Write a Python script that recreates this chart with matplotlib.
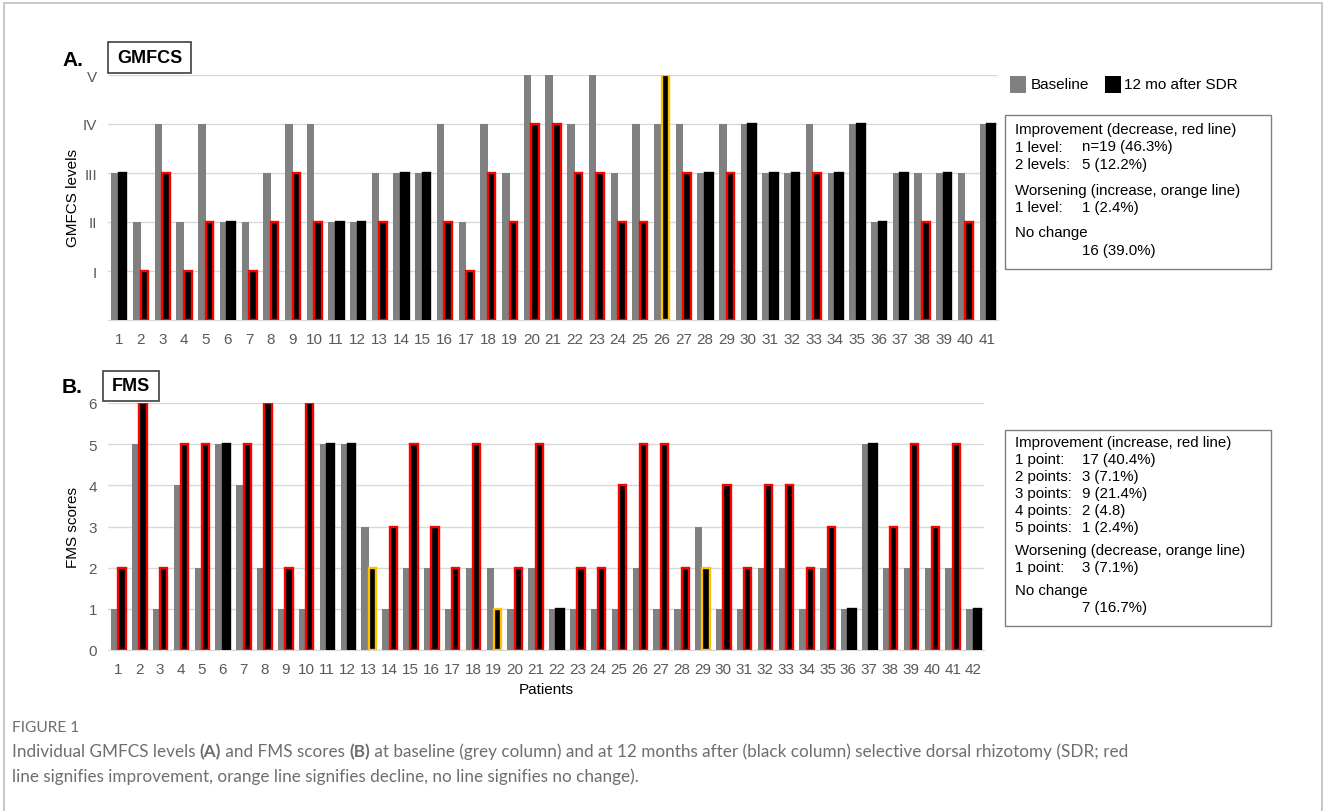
import numpy as np
import matplotlib
matplotlib.use("Agg")
import matplotlib.pyplot as plt
from matplotlib.patches import Rectangle

W, H = 1328, 812

# GMFCS levels (1 = I ... 5 = V)
gmfcs_patients = [str(i) for i in range(1, 42)]
gmfcs_baseline = [3, 2, 4, 2, 4, 2, 2, 3, 4, 4, 2, 2, 3, 3, 3, 4, 2, 4, 3, 5, 5,
                  4, 5, 3, 4, 4, 4, 3, 4, 4, 3, 3, 4, 3, 4, 2, 3, 3, 3, 3, 4]
gmfcs_after = [3, 1, 3, 1, 2, 2, 1, 2, 3, 2, 2, 2, 2, 3, 3, 2, 1, 3, 2, 4, 4,
               3, 3, 2, 2, 5, 3, 3, 3, 4, 3, 3, 3, 3, 4, 2, 3, 2, 3, 2, 4]
gmfcs_levels = ["I", "II", "III", "IV", "V"]

# FMS scores
fms_patients = [str(i) for i in range(1, 43)]
fms_baseline = [1, 5, 1, 4, 2, 5, 4, 2, 1, 1, 5, 5, 3, 1, 2, 2, 1, 2, 2, 1, 2,
                1, 1, 1, 1, 2, 1, 1, 3, 1, 1, 2, 2, 1, 2, 1, 5, 2, 2, 2, 2, 1]
fms_after = [2, 6, 2, 5, 5, 5, 5, 6, 2, 6, 5, 5, 2, 3, 5, 3, 2, 5, 1, 2, 5,
             1, 2, 2, 4, 5, 5, 2, 2, 4, 2, 4, 4, 2, 3, 1, 5, 3, 5, 3, 5, 1]

gmfcs_box = [("Improvement (decrease, red line)", ""),
             ("1 level:", "n=19 (46.3%)"),
             ("2 levels:", "5 (12.2%)"),
             None,
             ("Worsening (increase, orange line)", ""),
             ("1 level:", "1 (2.4%)"),
             None,
             ("No change", ""),
             ("", "16 (39.0%)")]
fms_box = [("Improvement (increase, red line)", ""),
           ("1 point:", "17 (40.4%)"),
           ("2 points:", "3 (7.1%)"),
           ("3 points:", "9 (21.4%)"),
           ("4 points:", "2 (4.8)"),
           ("5 points:", "1 (2.4%)"),
           None,
           ("Worsening (decrease, orange line)", ""),
           ("1 point:", "3 (7.1%)"),
           None,
           ("No change", ""),
           ("", "7 (16.7%)")]

GREY = "#808080"
RED = "#ff0000"
ORANGE = "#ffc000"
GRID = "#d9d9d9"
TICK = "#595959"

plt.rcParams["font.family"] = ["Liberation Sans", "DejaVu Sans"]

fig = plt.figure(figsize=(W / 100, H / 100), dpi=100)


def px_axes(l, t, r, b):
    return fig.add_axes([l / W, 1 - b / H, (r - l) / W, (b - t) / H])


def draw_panel(ax, labels, base, after, lower_is_better):
    x = np.arange(len(base))
    w = 0.35
    edges = []
    for b, a in zip(base, after):
        if a == b:
            edges.append("black")
        elif (a < b) == lower_is_better:
            edges.append(RED)
        else:
            edges.append(ORANGE)
    ax.bar(x - w / 2, base, w, color=GREY, zorder=2)
    ax.bar(x + w / 2, after, w, color="black", edgecolor=edges, linewidth=1.7, zorder=3)
    ax.set_xlim(-0.5, len(base) - 0.5)
    ax.set_xticks(x, labels)
    for s in ["top", "right", "left"]:
        ax.spines[s].set_visible(False)
    ax.spines["bottom"].set_color(GRID)
    ax.grid(axis="y", color=GRID, linewidth=1, zorder=0)
    ax.tick_params(length=0, colors=TICK, labelsize=11)
    ax.tick_params(axis="x", pad=9)
    ax.tick_params(axis="y", pad=8)


# Panel A
axA = px_axes(108, 76, 998, 321)
draw_panel(axA, gmfcs_patients, gmfcs_baseline, gmfcs_after, True)
axA.set_ylim(0, 5)
axA.set_yticks(range(1, 6), gmfcs_levels)
fig.text(73 / W, 1 - 198 / H, "GMFCS levels", rotation=90, ha="center", va="center", fontsize=11)

# Panel B
axB = px_axes(108, 404, 984, 651)
draw_panel(axB, fms_patients, fms_baseline, fms_after, False)
axB.set_ylim(0, 6)
axB.set_yticks(range(0, 7))
fig.text(73 / W, 1 - 528 / H, "FMS scores", rotation=90, ha="center", va="center", fontsize=11)
fig.text(546 / W, 1 - 690 / H, "Patients", ha="center", va="center", fontsize=11)


def tag(letter, lx, ly, name, l, t, r, b):
    fig.text(lx / W, 1 - ly / H, letter, fontsize=15, fontweight="bold", ha="left", va="center")
    fig.add_artist(Rectangle((l / W, 1 - b / H), (r - l) / W, (b - t) / H,
                             transform=fig.transFigure, fill=True, facecolor="white",
                             edgecolor="#404040", linewidth=1.2, zorder=5))
    fig.text((l + r) / 2 / W, 1 - (t + b) / 2 / H, name, fontsize=13, fontweight="bold",
             ha="center", va="center", zorder=6)


tag("A.", 62, 60, "GMFCS", 108, 43, 191, 74)
tag("B.", 62, 388, "FMS", 103, 372, 159, 402)

# legend squares
fig.add_artist(Rectangle((1010 / W, 1 - 94 / H), 16 / W, 17 / H, transform=fig.transFigure,
                         facecolor=GREY, edgecolor="none"))
fig.text(1031 / W, 1 - 85 / H, "Baseline", fontsize=11, va="center")
fig.add_artist(Rectangle((1105 / W, 1 - 94 / H), 16 / W, 17 / H, transform=fig.transFigure,
                         facecolor="black", edgecolor="none"))
fig.text(1124 / W, 1 - 85 / H, "12 mo after SDR", fontsize=11, va="center")


def text_box(rows, l, t, r, b, y0, step, gap):
    fig.add_artist(Rectangle((l / W, 1 - b / H), (r - l) / W, (b - t) / H,
                             transform=fig.transFigure, fill=False,
                             edgecolor="#7f7f7f", linewidth=1))
    y = y0
    for row in rows:
        if row is None:
            y += gap
            continue
        left, right = row
        if left:
            fig.text((l + 10) / W, 1 - y / H, left, fontsize=10.8, va="center")
        if right:
            fig.text((l + 77) / W, 1 - y / H, right, fontsize=10.8, va="center")
        y += step


text_box(gmfcs_box, 1005, 116, 1271, 270, 130, 17.5, 8)
text_box(fms_box, 1005, 431, 1271, 627, 443, 17, 6)

# caption
fig.text(12 / W, 1 - 728 / H, "FIGURE 1", fontsize=11.2, color="#6e6e6e", family="Lato",
         va="center")
cap_kw = dict(fontsize=12.3, color="#6e6e6e", family="Lato", va="center")
renderer = fig.canvas.get_renderer()


def rich_line(x, y, parts):
    x = x / W
    for s, bold in parts:
        t = fig.text(x, 1 - y / H, s, fontweight="bold" if bold else "normal", **cap_kw)
        x += t.get_window_extent(renderer=renderer).width / W


rich_line(12, 752, [("Individual GMFCS levels ", False), ("(A)", True),
                    (" and FMS scores ", False), ("(B)", True),
                    (" at baseline (grey column) and at 12 months after (black column) "
                     "selective dorsal rhizotomy (SDR; red", False)])
fig.text(12 / W, 1 - 777 / H,
         "line signifies improvement, orange line signifies decline, no line signifies no change).",
         **cap_kw)

# outer frame
fig.add_artist(Rectangle((4 / W, -0.05), 1318 / W, 1.05 - 4 / H, transform=fig.transFigure,
                         fill=False, edgecolor="#bdbdbd", linewidth=1.2))

fig.savefig("out.png", dpi=100)
